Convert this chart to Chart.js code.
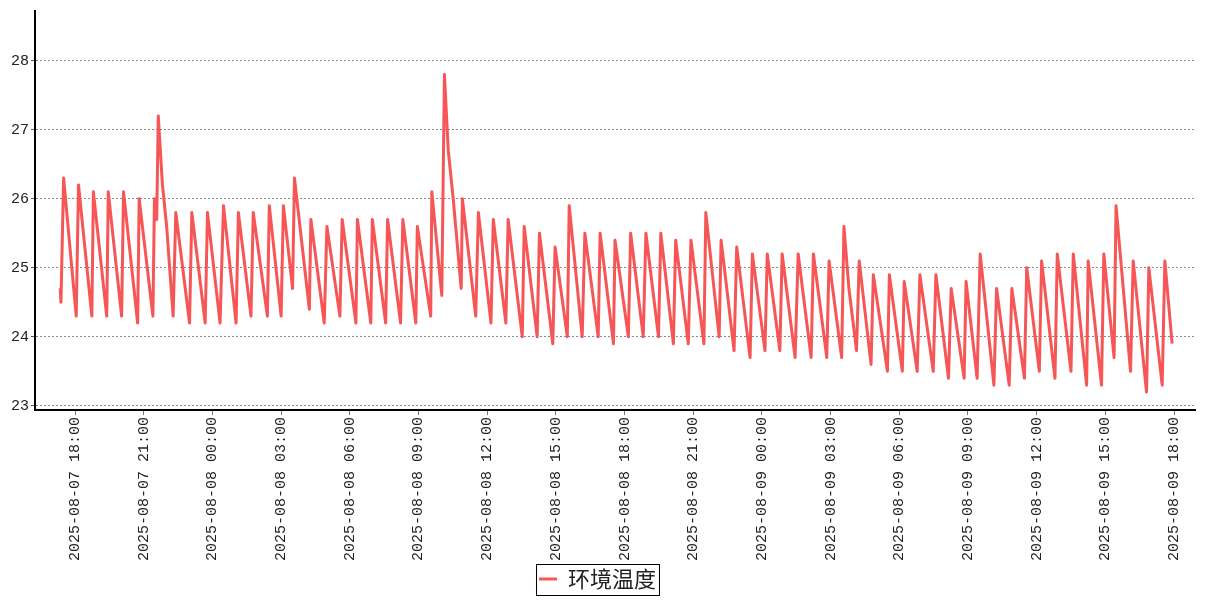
<!DOCTYPE html>
<html lang="zh">
<head>
<meta charset="UTF-8">
<title>环境温度</title>
<script src="https://cdn.jsdelivr.net/npm/chart.js"></script>
<style>
    html, body { margin: 0; padding: 0; background: #fff; }
    .wrap { width: 1207px; height: 600px; position: relative; }
</style>
</head>
<body>
<div class="wrap"><canvas id="tempChart"></canvas></div>
<script>
    // time of each point, minutes since 2025-08-07 00:00
    const minutes = [
        1041, 1043, 1050, 1083, 1089, 1124, 1128, 1163, 1167, 1202, 1207, 1244, 1248, 1284, 1288, 1294,
        1298, 1309, 1320, 1337, 1344, 1380, 1386, 1421, 1427, 1460, 1469, 1502, 1508, 1541, 1547, 1584,
        1589, 1620, 1626, 1650, 1655, 1694, 1698, 1733, 1740, 1774, 1780, 1816, 1820, 1855, 1859, 1894,
        1899, 1933, 1939, 1973, 1977, 2012, 2015, 2041, 2048, 2058, 2071, 2092, 2095, 2130, 2137, 2170,
        2176, 2209, 2215, 2252, 2257, 2291, 2297, 2332, 2338, 2370, 2375, 2409, 2416, 2451, 2456, 2491,
        2495, 2530, 2536, 2569, 2576, 2609, 2615, 2648, 2654, 2687, 2694, 2728, 2733, 2768, 2773, 2807,
        2814, 2849, 2855, 2888, 2894, 2927, 2933, 2967, 2975, 3009, 3015, 3050, 3056, 3089, 3095, 3108,
        3128, 3135, 3166, 3172, 3209, 3214, 3248, 3253, 3287, 3294, 3329, 3336, 3369, 3376, 3410, 3415,
        3444, 3452, 3488, 3495, 3528, 3535, 3568, 3574, 3607, 3613, 3648, 3654, 3690, 3696, 3731, 3735,
        3770, 3776, 3803, 3808, 3846, 3853, 3888, 3894, 3929, 3936, 3955
    ];
    const temps = [
        24.7, 24.5, 26.3, 24.3, 26.2, 24.3, 26.1, 24.3, 26.1, 24.3, 26.1, 24.2, 26.0, 24.3, 26.0, 25.7,
        27.2, 26.2, 25.6, 24.3, 25.8, 24.2, 25.8, 24.2, 25.8, 24.2, 25.9, 24.2, 25.8, 24.3, 25.8, 24.3,
        25.9, 24.3, 25.9, 24.7, 26.3, 24.4, 25.7, 24.2, 25.6, 24.3, 25.7, 24.2, 25.7, 24.2, 25.7, 24.2,
        25.7, 24.2, 25.7, 24.2, 25.6, 24.3, 26.1, 24.6, 27.8, 26.7, 26.0, 24.7, 26.0, 24.3, 25.8, 24.2,
        25.7, 24.2, 25.7, 24.0, 25.6, 24.0, 25.5, 23.9, 25.3, 24.0, 25.9, 24.0, 25.5, 24.0, 25.5, 23.9,
        25.4, 24.0, 25.5, 24.0, 25.5, 24.0, 25.5, 23.9, 25.4, 23.9, 25.4, 23.9, 25.8, 24.0, 25.4, 23.8,
        25.3, 23.7, 25.2, 23.8, 25.2, 23.8, 25.2, 23.7, 25.2, 23.7, 25.2, 23.7, 25.1, 23.7, 25.6, 24.7,
        23.8, 25.1, 23.6, 24.9, 23.5, 24.9, 23.5, 24.8, 23.5, 24.9, 23.5, 24.9, 23.4, 24.7, 23.4, 24.8,
        23.4, 25.2, 23.3, 24.7, 23.3, 24.7, 23.4, 25.0, 23.5, 25.1, 23.4, 25.2, 23.5, 25.2, 23.3, 25.1,
        23.3, 25.2, 23.7, 25.9, 23.5, 25.1, 23.2, 25.0, 23.3, 25.1, 23.9
    ];
    const seriesName = '环境温度';
    const tickLabels = [
        '2025-08-07 18:00', '2025-08-07 21:00', '2025-08-08 00:00', '2025-08-08 03:00',
        '2025-08-08 06:00', '2025-08-08 09:00', '2025-08-08 12:00', '2025-08-08 15:00',
        '2025-08-08 18:00', '2025-08-08 21:00', '2025-08-09 00:00', '2025-08-09 03:00',
        '2025-08-09 06:00', '2025-08-09 09:00', '2025-08-09 12:00', '2025-08-09 15:00',
        '2025-08-09 18:00'
    ];
    const yTicks = [23, 24, 25, 26, 27, 28];

    // "2025-08-DD HH:MM" -> minutes since 2025-08-07 00:00
    function toMinutes(s) {
        const day = parseInt(s.slice(8, 10), 10) - 7;
        return day * 1440 + parseInt(s.slice(11, 13), 10) * 60 + parseInt(s.slice(14, 16), 10);
    }
    const tickMinutes = tickLabels.map(toMinutes);

    // box round the legend item
    const legendBox = {
        id: 'legendBox',
        afterDraw(chart) {
            const hb = chart.legend.legendHitBoxes[0];
            if (!hb) return;
            const c = chart.ctx;
            c.save();
            c.strokeStyle = '#000';
            c.lineWidth = 1;
            c.strokeRect(Math.round(hb.left - 3) + 0.5, Math.round(hb.top - 4) + 0.5, Math.round(hb.width + 6), Math.round(hb.height + 9));
            c.restore();
        }
    };

    const ctx = document.getElementById('tempChart').getContext('2d');
    new Chart(ctx, {
        type: 'line',
        data: {
            datasets: [{
                label: seriesName,
                data: minutes.map((m, i) => ({ x: m, y: temps[i] })),
                borderColor: '#f65656',
                backgroundColor: '#f65656',
                borderWidth: 3,
                borderJoinStyle: 'round',
                pointRadius: 0,
                tension: 0,
                fill: false
            }]
        },
        options: {
            responsive: true,
            maintainAspectRatio: false,
            animation: false,
            layout: { padding: { top: 10, right: 12, left: 0, bottom: 0 } },
            plugins: {
                tooltip: { enabled: false },
                legend: {
                    position: 'bottom',
                    labels: {
                        usePointStyle: true,
                        pointStyle: 'line',
                        pointStyleWidth: 18,
                        padding: 6,
                        color: '#222',
                        font: { family: '"Noto Sans CJK SC", serif', size: 22 }
                    }
                }
            },
            scales: {
                x: {
                    type: 'linear',
                    min: 975,
                    max: 4015,
                    afterBuildTicks: s => { s.ticks = tickMinutes.map(v => ({ value: v })); },
                    afterFit: s => { s.height = 152; },
                    border: { display: true, color: '#000', width: 2 },
                    grid: { drawOnChartArea: false, drawTicks: true, tickLength: 5, tickColor: '#777' },
                    ticks: {
                        autoSkip: false,
                        minRotation: 90,
                        maxRotation: 90,
                        padding: 2,
                        color: '#222',
                        font: { family: '"Liberation Mono", monospace', size: 15 },
                        callback: (v, i) => tickLabels[i]
                    }
                },
                y: {
                    min: 22.94,
                    max: 28.72,
                    afterBuildTicks: s => { s.ticks = yTicks.map(v => ({ value: v })); },
                    afterFit: s => { s.width = 35; },
                    border: { display: true, color: '#000', width: 2, dash: [2, 2] },
                    grid: { color: '#888', lineWidth: 1, tickLength: 4, tickColor: '#555', tickBorderDash: [] },
                    ticks: {
                        padding: 2,
                        color: '#222',
                        font: { family: '"Liberation Mono", monospace', size: 15 }
                    }
                }
            }
        },
        plugins: [legendBox]
    });
</script>
</body>
</html>
